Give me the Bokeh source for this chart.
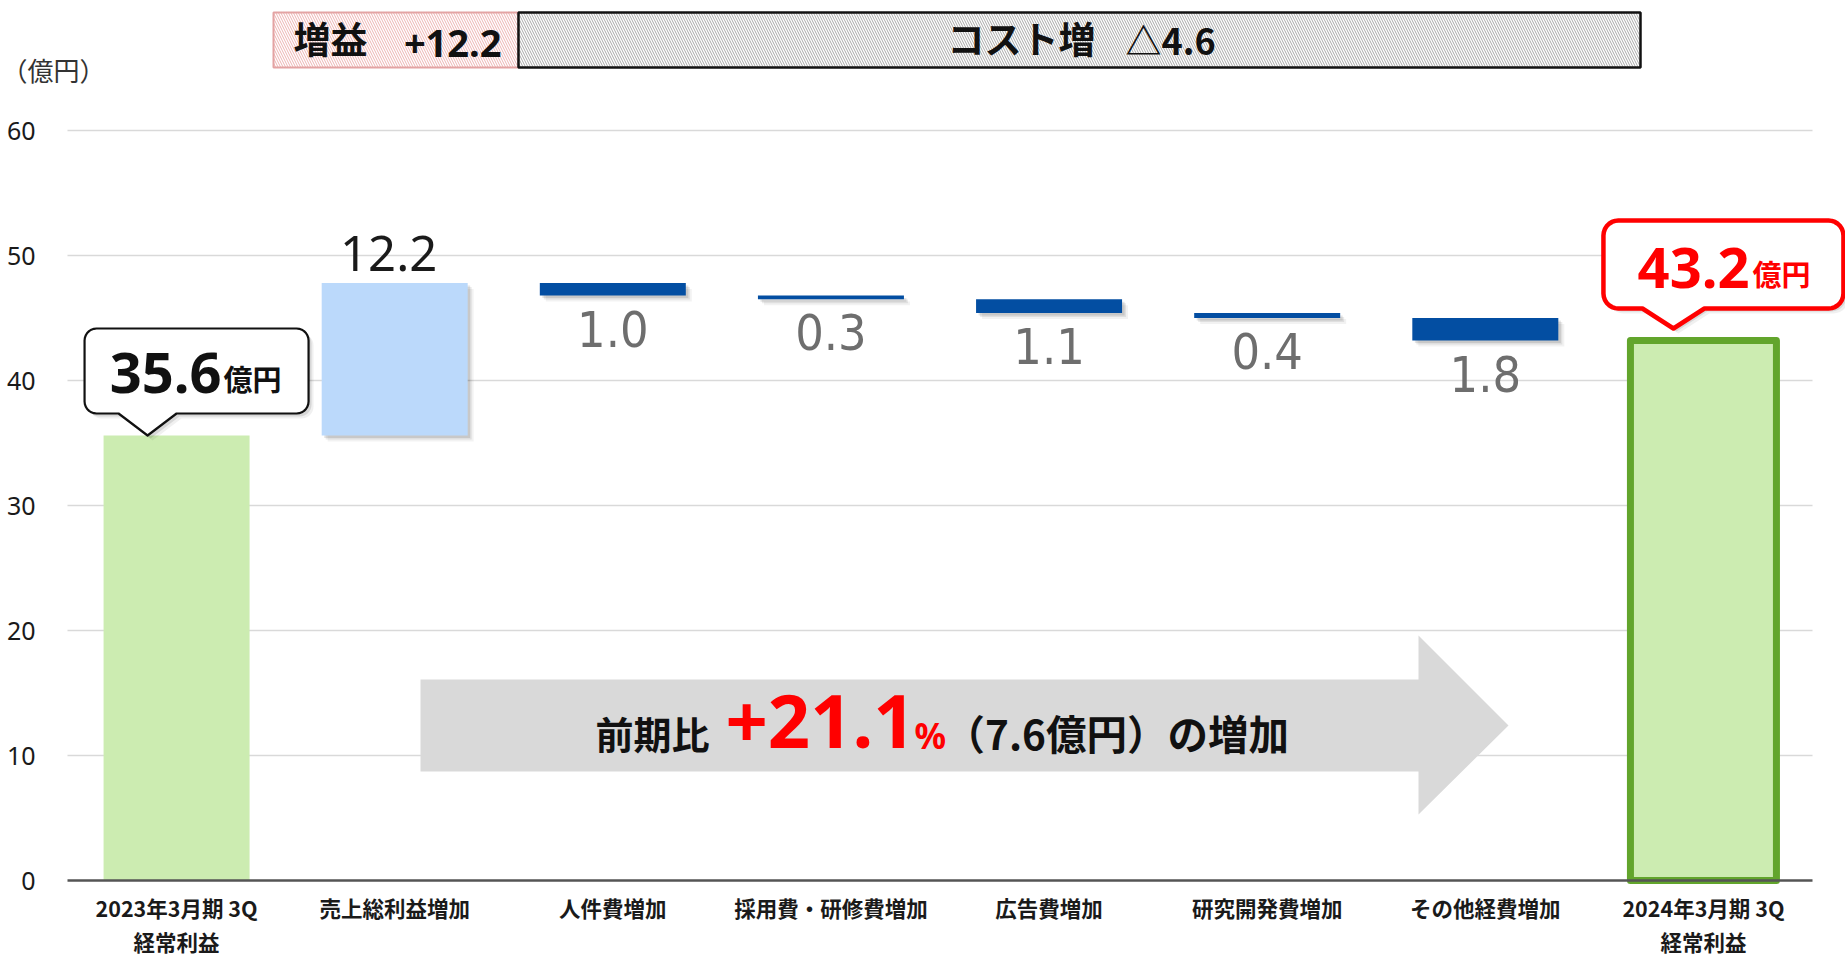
import numpy as np
from bokeh.plotting import figure
from bokeh.models import Range1d, FixedTicker
from bokeh.core.properties import value
from bokeh.embed import file_html
from bokeh.resources import INLINE

# ---------------- data ----------------
categories = [
    "2023年3月期 3Q\n経常利益",
    "売上総利益増加",
    "人件費増加",
    "採用費・研修費増加",
    "広告費増加",
    "研究開発費増加",
    "その他経費増加",
    "2024年3月期 3Q\n経常利益",
]
start_value = 35.6
changes = [12.2, -1.0, -0.3, -1.1, -0.4, -1.8]
end_value = 43.2
y_ticks = [0, 10, 20, 30, 40, 50, 60]
gain_total = 12.2
cost_total = 4.6
growth_pct = 21.1
growth_amount = 7.6
unit_label = "（億円）"

# ---------------- layout helpers (window pixels -> data) ----------------
W, H = 1845, 959
FL, FB = 67, 880          # x=0 (left of first category) / y=0 baseline, in window px
PXX = 1745 / 8            # px per category
PXY = 12.5                # px per 1 unit on y


def X(px):
    return (px - FL) / PXX


def Y(py):
    return (FB - py) / PXY


def cat_px(i):
    return FL + (i + 0.5) * PXX


def val_px(v):
    return FB - v * PXY


JP = value("Noto Sans CJK JP")
LAT = value("Noto Sans")
NARROW = value("DejaVu Sans Condensed")

p = figure(
    width=W, height=H,
    x_range=Range1d(X(0), X(W)), y_range=Range1d(Y(H), Y(0)),
    output_backend="svg", toolbar_location=None,
    min_border=0, min_border_left=0, min_border_right=0, min_border_top=0, min_border_bottom=0,
)
p.outline_line_color = None
p.background_fill_color = "white"
p.border_fill_color = "white"
p.xgrid.visible = False
p.ygrid.visible = False

# y axis (drawn at x = 0 inside the canvas)
p.yaxis.fixed_location = 0
p.yaxis.ticker = FixedTicker(ticks=y_ticks)
p.yaxis.axis_line_color = None
p.yaxis.major_tick_line_color = None
p.yaxis.minor_tick_line_color = None
p.yaxis.major_label_standoff = 26
p.yaxis.major_label_text_font = "Noto Sans"
p.yaxis.major_label_text_font_size = "25px"
p.yaxis.major_label_text_color = "#1a1a1a"

# x axis (drawn at y = 0)
n = len(categories)
xpos = [i + 0.5 for i in range(n)]
p.xaxis.fixed_location = 0
p.xaxis.ticker = FixedTicker(ticks=xpos)
p.xaxis.major_label_overrides = {x: c for x, c in zip(xpos, categories)}
p.xaxis.axis_line_color = None
p.xaxis.major_tick_line_color = None
p.xaxis.minor_tick_line_color = None
p.xaxis.major_label_standoff = 5
p.xaxis.major_label_text_font = "Noto Sans CJK JP"
p.xaxis.major_label_text_font_style = "bold"
p.xaxis.major_label_text_font_size = "21.5px"
p.xaxis.major_label_text_line_height = 1.12
p.xaxis.major_label_text_color = "#1a1a1a"

# grid lines (only across the category span)
grid_vals = [t for t in y_ticks if t > 0]
p.segment(x0=[0] * len(grid_vals), x1=[n] * len(grid_vals), y0=grid_vals, y1=grid_vals,
          line_color="#D9D9D9", line_width=1.6, level="underlay")

# ---------------- header boxes ----------------
hdr_top, hdr_bot = Y(12), Y(67)
p.quad(left=[X(273)], right=[X(518)], top=[hdr_top], bottom=[hdr_bot],
       fill_color="white", hatch_pattern="\\", hatch_color="#EDB3B3", hatch_scale=5,
       hatch_weight=1, line_color="#E3A3A3", line_width=2)
p.quad(left=[X(518)], right=[X(1640)], top=[hdr_top], bottom=[hdr_bot],
       fill_color="white", hatch_pattern="\\", hatch_color="#A8A8A8", hatch_scale=5,
       hatch_weight=1, line_color="#111111", line_width=2.5)
p.text(x=[X(293)], y=[Y(10)], text=["増益"], text_font=JP, text_font_style="bold",
       text_font_size="37px", text_color="#111111", text_baseline="top", text_align="left")
p.text(x=[X(501)], y=[Y(29)], text=["+{:.1f}".format(gain_total)], text_font=LAT, text_font_style="bold",
       text_font_size="38px", text_color="#111111", text_baseline="top", text_align="right")
p.text(x=[X(947)], y=[Y(10)], text=["コスト増"], text_font=JP, text_font_style="bold",
       text_font_size="37px", text_color="#111111", text_baseline="top", text_align="left")
p.text(x=[X(1125)], y=[Y(12)], text=["△{:.1f}".format(cost_total)], text_font=JP, text_font_style="bold",
       text_font_size="36px", text_color="#111111", text_baseline="top", text_align="left")
p.text(x=[X(1)], y=[Y(50)], text=[unit_label], text_font=JP, text_font_size="26px",
       text_color="#333333", text_baseline="top", text_align="left")

# ---------------- big arrow ----------------
arrow_px = [(420, 679), (1418, 679), (1418, 635), (1508, 725), (1418, 814), (1418, 771), (420, 771)]
p.patch(x=[X(a) for a, b in arrow_px], y=[Y(b) for a, b in arrow_px],
        fill_color="#D9D9D9", line_color=None)
p.text(x=[X(595)], y=[Y(704)], text=["前期比"], text_font=JP, text_font_style="bold",
       text_font_size="38px", text_color="#111111", text_baseline="top")
p.text(x=[X(725)], y=[Y(694)], text=["+{:.1f}".format(growth_pct)], text_font=LAT, text_font_style="bold",
       text_font_size="74px", text_color="#FF0000", text_baseline="top")
p.text(x=[X(914)], y=[Y(711)], text=["%"], text_font=LAT, text_font_style="bold",
       text_font_size="35px", text_color="#FF0000", text_baseline="top")
p.text(x=[X(944)], y=[Y(702)], text=["（{:.1f}億円）の増加".format(growth_amount)], text_font=JP,
       text_font_style="bold", text_font_size="40.5px", text_color="#111111", text_baseline="top")

# ---------------- waterfall bars ----------------
levels = np.concatenate([[start_value], start_value + np.cumsum(changes)])
ch_x = [i + 1.5 for i in range(len(changes))]
ch_bottom = [min(levels[i], levels[i + 1]) for i in range(len(changes))]
ch_top = [max(levels[i], levels[i + 1]) for i in range(len(changes))]
ch_color = ["#BBD9FB" if c > 0 else "#034EA2" for c in changes]
BW = 146 / PXX

# soft shadows
for off, alpha in [(6, 0.05), (4, 0.08), (2.5, 0.10)]:
    p.vbar(x=[x + off / PXX for x in ch_x], bottom=[b - off / PXY for b in ch_bottom],
           top=[t - off / PXY for t in ch_top], width=BW, fill_color="#000000",
           fill_alpha=alpha, line_color=None)
p.vbar(x=ch_x, bottom=ch_bottom, top=ch_top, width=BW, fill_color=ch_color, line_color=None)

# totals
p.vbar(x=[0.5], bottom=[0], top=[start_value], width=BW, fill_color="#CCECB1", line_color=None)
p.vbar(x=[n - 0.5], bottom=[0], top=[end_value], width=BW, fill_color="#CCECB1",
       line_color="#62A52C", line_width=7, line_join="round")

# axis baseline
p.segment(x0=[0], x1=[n], y0=[0], y1=[0], line_color="#555555", line_width=2.6)

# change labels
pos_x = [x for x, c in zip(ch_x, changes) if c > 0]
pos_y = [t for t, c in zip(ch_top, changes) if c > 0]
pos_t = ["{:.1f}".format(c) for c in changes if c > 0]
p.text(x=pos_x, y=pos_y, text=pos_t, x_offset=-6, y_offset=-47, text_font=LAT, text_font_size="49px",
       text_color="#1a1a1a", text_align="center", text_baseline="top")
neg_x = [x for x, c in zip(ch_x, changes) if c < 0]
neg_y = [b for b, c in zip(ch_bottom, changes) if c < 0]
neg_t = ["{:.1f}".format(-c) for c in changes if c < 0]
p.text(x=neg_x, y=neg_y, text=neg_t, y_offset=15, text_font=NARROW, text_font_size="50px",
       text_color="#6E6E6E", text_align="center", text_baseline="top")


# ---------------- callouts ----------------
def callout(tip_x, tip_y, left, right, top, bottom, half, r):
    pts = []

    def arc(cx, cy, a0, a1):
        for a in np.linspace(np.radians(a0), np.radians(a1), 8):
            pts.append((cx + r * np.cos(a), cy + r * np.sin(a)))

    L, R, T, B = tip_x + left, tip_x + right, tip_y + top, tip_y + bottom
    arc(R - r, T + r, -90, 0)
    arc(R - r, B - r, 0, 90)
    pts.append((tip_x + half, B))
    pts.append((tip_x, tip_y))
    pts.append((tip_x - half, B))
    arc(L + r, B - r, 90, 180)
    arc(L + r, T + r, 180, 270)
    return pts


def draw_callout(pts, color, lw):
    for off, alpha in [(5, 0.06), (3, 0.10)]:
        p.patch(x=[X(a + off) for a, b in pts], y=[Y(b + off) for a, b in pts],
                fill_color="#000000", fill_alpha=alpha, line_color=None)
    p.patch(x=[X(a) for a, b in pts], y=[Y(b) for a, b in pts], fill_color="white",
            line_color=color, line_width=lw, line_join="round")


# start callout
t1x, t1y = cat_px(0) - 29, val_px(start_value)
draw_callout(callout(t1x, t1y, -63, 161, -107, -22, 29, 12), "#111111", 2.2)
p.text(x=[X(t1x + 74)], y=[Y(t1y - 83)], text=["{:.1f}".format(start_value)], text_font=LAT,
       text_font_style="bold", text_font_size="56px", text_color="#111111",
       text_align="right", text_baseline="top")
p.text(x=[X(t1x + 76)], y=[Y(t1y - 79)], text=["億円"], text_font=JP, text_font_style="bold",
       text_font_size="29px", text_color="#111111", text_align="left", text_baseline="top")

# end callout
t2x, t2y = cat_px(n - 1) - 30, val_px(end_value) - 12
draw_callout(callout(t2x, t2y, -70, 170, -108, -20, 31, 15), "#FF0000", 4.5)
p.text(x=[X(t2x + 76)], y=[Y(t2y - 81)], text=["{:.1f}".format(end_value)], text_font=LAT,
       text_font_style="bold", text_font_size="56px", text_color="#FF0000",
       text_align="right", text_baseline="top")
p.text(x=[X(t2x + 79)], y=[Y(t2y - 77)], text=["億円"], text_font=JP, text_font_style="bold",
       text_font_size="29px", text_color="#FF0000", text_align="left", text_baseline="top")

open("out.html", "w").write(file_html(p, INLINE))
